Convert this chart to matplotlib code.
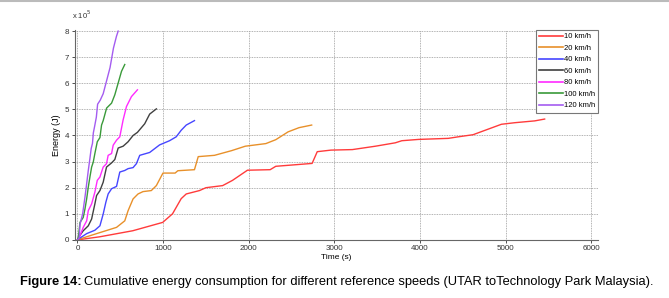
import numpy as np
import matplotlib
matplotlib.use("Agg")
import matplotlib.pyplot as plt

# time (s) / energy (x1e5 J)
t_10 = [0, 262, 645, 995, 1110, 1211, 1270, 1425, 1500, 1695, 1810, 1985, 2250, 2316,
        2740, 2800, 2960, 3210, 3480, 3712, 3788, 3983, 4330, 4448, 4620, 4719, 4951,
        5107, 5340, 5456]
e_10 = [0, 0.12, 0.35, 0.67, 1.0, 1.58, 1.76, 1.89, 2.0, 2.08, 2.28, 2.67, 2.69, 2.82,
        2.93, 3.38, 3.44, 3.46, 3.59, 3.72, 3.80, 3.85, 3.89, 3.95, 4.03, 4.15, 4.43,
        4.49, 4.56, 4.63]

t_20 = [0, 107, 262, 456, 552, 591, 649, 707, 765, 862, 921, 998, 1140, 1172, 1366, 1410,
        1600, 1800, 1960, 2200, 2316, 2460, 2587, 2735]
e_20 = [0, 0.12, 0.28, 0.48, 0.73, 1.12, 1.57, 1.76, 1.85, 1.89, 2.08, 2.56, 2.56, 2.65,
        2.69, 3.19, 3.24, 3.42, 3.59, 3.69, 3.84, 4.14, 4.30, 4.40]

t_40 = [0, 10, 107, 203, 262, 300, 331, 358, 398, 456, 494, 552, 591, 649, 688, 727, 843,
        959, 1075, 1153, 1211, 1270, 1366]
e_40 = [0, 0.03, 0.24, 0.37, 0.54, 0.99, 1.44, 1.76, 1.96, 2.05, 2.6, 2.66, 2.73, 2.77,
        2.92, 3.24, 3.35, 3.64, 3.80, 3.95, 4.2, 4.40, 4.57]

t_60 = [0, 10, 67, 126, 165, 203, 223, 262, 300, 339, 398, 436, 475, 533, 591, 649, 700,
        785, 843, 921]
e_60 = [0, 0.09, 0.35, 0.54, 0.80, 1.38, 1.70, 1.89, 2.21, 2.79, 2.95, 3.08, 3.52, 3.59,
        3.76, 4.0, 4.12, 4.45, 4.82, 5.02]

t_80 = [0, 21, 67, 107, 126, 165, 203, 231, 262, 300, 339, 358, 398, 417, 456, 494, 533,
        572, 630, 700]
e_80 = [0, 0.09, 0.48, 0.73, 1.12, 1.38, 1.83, 2.28, 2.41, 2.79, 2.92, 3.24, 3.31, 3.63,
        3.82, 3.95, 4.6, 5.11, 5.49, 5.75]

t_100 = [0, 10, 29, 67, 87, 107, 126, 145, 165, 184, 203, 231, 262, 281, 300, 340, 398,
         436, 475, 514, 552]
e_100 = [0, 0.09, 0.67, 0.86, 1.18, 1.57, 2.02, 2.41, 2.79, 2.98, 3.31, 3.76, 3.92, 4.4,
         4.57, 5.05, 5.24, 5.56, 6.01, 6.46, 6.72]

t_120 = [0, 20, 30, 60, 87, 107, 126, 145, 160, 175, 185, 200, 220, 235, 265, 300, 340,
         380, 420, 455, 475]
e_120 = [0, 0.09, 0.6, 1.0, 1.63, 2.15, 2.66, 3.12, 3.5, 3.7, 4.1, 4.35, 4.7, 5.2, 5.35,
         5.6, 6.1, 6.6, 7.35, 7.8, 8.0]

labels = ["10 km/h", "20 km/h", "40 km/h", "60 km/h", "80 km/h", "100 km/h", "120 km/h"]
colors = ["#ff3b3b", "#e8902a", "#4646ff", "#404040", "#ff2bff", "#3a9a3a", "#a45cf0"]
series = [(t_10, e_10), (t_20, e_20), (t_40, e_40), (t_60, e_60),
          (t_80, e_80), (t_100, e_100), (t_120, e_120)]

plt.rcParams['font.family'] = ['Liberation Sans', 'DejaVu Sans']

fig = plt.figure(figsize=(6.69, 2.98), dpi=100)
ax = fig.add_axes([0.112, 0.195, 0.782, 0.705])

for (t, e), lab, c in zip(series, labels, colors):
    ax.plot(t, e, color=c, lw=1.0, label=lab)

ax.set_xlim(-30, 6080)
ax.set_ylim(0, 8.05)
ax.set_xticks(range(0, 6001, 1000))
ax.set_yticks(range(0, 9))
ax.tick_params(labelsize=5.8, length=2, width=0.6, colors="#333333", pad=2)
ax.grid(True, linestyle=(0, (1, 1)), color="#999999", lw=0.6)
for s in ["top", "right"]:
    ax.spines[s].set_visible(False)
for s in ["left", "bottom"]:
    ax.spines[s].set_color("#666666")
    ax.spines[s].set_linewidth(0.8)
ax.set_xlabel("Time (s)", fontsize=6, labelpad=1)
ax.set_ylabel("Energy (J)", fontsize=6.5, labelpad=3)
ax.text(-0.005, 1.04, r"x 10$^5$", transform=ax.transAxes, fontsize=5.5,
        ha="left", va="bottom", color="#333333")

leg = ax.legend(loc="upper right", fontsize=5.5, handlelength=3.2, handletextpad=0.1,
                labelspacing=0.55, borderpad=0.4, borderaxespad=0.0, fancybox=False,
                framealpha=1, edgecolor="#777777")
leg.get_frame().set_linewidth(0.8)
for ln in leg.get_lines():
    ln.set_linewidth(1.2)

# top border line
fig.add_artist(plt.Line2D([0, 1], [0.997, 0.997], color="#bbbbbb", lw=1.5,
                          transform=fig.transFigure))

# caption with bold prefix
x0, yc = 0.03, 0.045
t1 = fig.text(x0, yc, "Figure 14:", fontsize=9.3, fontweight="bold", va="baseline")
fig.canvas.draw()
bb = t1.get_window_extent(fig.canvas.get_renderer())
fig.text(bb.x1 / fig.bbox.width + 0.004, yc,
         "Cumulative energy consumption for different reference speeds (UTAR toTechnology Park Malaysia).",
         fontsize=9.3, va="baseline")

fig.savefig("out.png", dpi=100)
